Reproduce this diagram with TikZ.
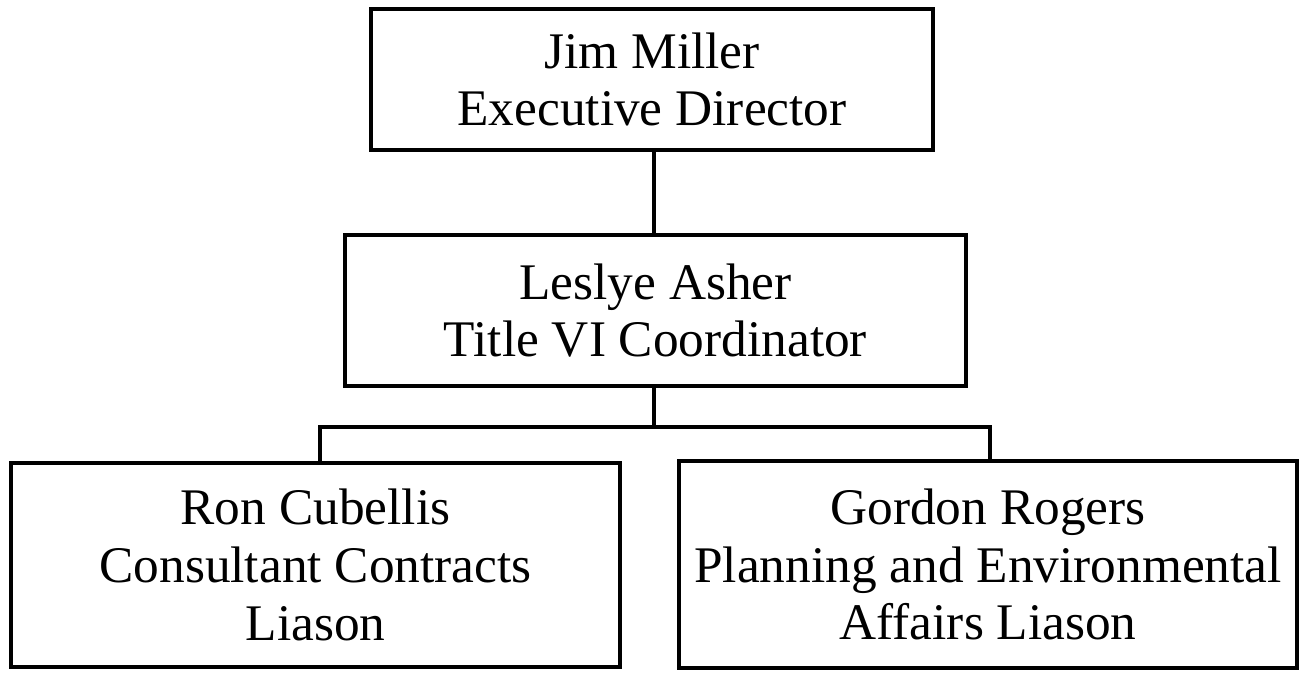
\documentclass[tikz,border=0pt]{standalone}
\usepackage{fontspec}
\setmainfont{Liberation Serif}
\begin{document}
\begin{tikzpicture}[x=0.01cm,y=-0.01cm,
  orgbox/.style={draw,line width=1pt,rectangle,inner sep=0pt,align=center,
    font=\fontsize{14.6}{16.4}\selectfont},
  link/.style={line width=1pt}]
\useasboundingbox (0,0) rectangle (1304,675);
\node[orgbox,minimum width=5.62cm,minimum height=1.41cm] (top) at (652,79.5) {Jim Miller\\Executive Director};
\node[orgbox,minimum width=6.21cm,minimum height=1.51cm] (mid) at (655.5,310.5) {Leslye Asher\\Title VI Coordinator};
\node[orgbox,minimum width=6.09cm,minimum height=2.04cm] (left) at (315.5,565) {Ron Cubellis\\Consultant Contracts\\Liason};
\node[orgbox,minimum width=6.18cm,minimum height=2.07cm] (right) at (988,564.5) {Gordon Rogers\\Planning and Environmental\\Affairs Liason};
\coordinate (bus) at (654,427);
\coordinate (busL) at (320,427);
\coordinate (busR) at (990,427);
\draw[link] (top.south -| bus) -- (mid.north -| bus);
\draw[link] (mid.south -| bus) -- (bus);
\draw[link] (left.north -| busL) -- (busL) -- (busR) -- (right.north -| busR);
\end{tikzpicture}
\end{document}
